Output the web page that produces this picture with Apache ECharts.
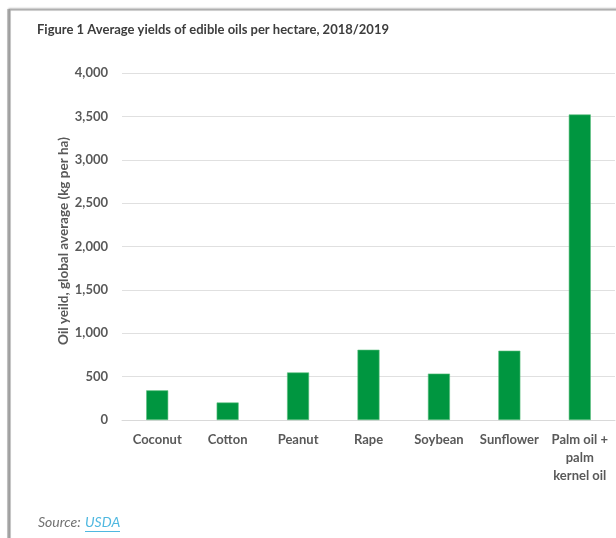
<!DOCTYPE html>
<html><head><meta charset="utf-8">
<script src="https://cdn.jsdelivr.net/npm/echarts@6/dist/echarts.min.js"></script>
<style>html,body{margin:0;padding:0;background:#fff}#c{width:616px;height:538px}</style>
</head><body><div id="c"></div>
<script>
var categories = ['Coconut', 'Cotton', 'Peanut', 'Rape', 'Soybean', 'Sunflower', 'Palm oil +\npalm\nkernel oil'];
var yields = [342, 202, 548, 810, 535, 799, 3522];
var yTicks = [0, 500, 1000, 1500, 2000, 2500, 3000, 3500, 4000];
var yTitle = 'Oil yeild, global average (kg per ha)';

var FONT = 'Lato';
var chart = echarts.init(document.getElementById('c'), null, {renderer: 'canvas'});
chart.setOption({
  animation: false,
  backgroundColor: '#fff',
  graphic: [
    {type: 'rect', shape: {x: 7, y: 9, width: 3, height: 540}, style: {fill: '#d0d0d0'}, z: -9},
    {type: 'rect', shape: {x: 10, y: 10, width: 640, height: 560}, style: {fill: '#fff', stroke: '#a8a8a8', lineWidth: 1.2, shadowBlur: 2, shadowColor: 'rgba(0,0,0,0.3)', shadowOffsetX: -1, shadowOffsetY: -1}, z: -8},
    {type: 'text', left: 37, top: 23, style: {text: 'Figure 1 Average yields of edible oils per hectare, 2018/2019', font: 'bold 13px ' + FONT, fill: '#3d3d3d'}},
    {type: 'text', x: 64, y: 241, rotation: Math.PI / 2, style: {text: yTitle, font: 'bold 13.5px ' + FONT, fill: '#595959', align: 'center', verticalAlign: 'middle'}},
    {type: 'text', left: 38, top: 515, style: {text: 'Source:', font: 'italic 14px ' + FONT, fill: '#707070'}},
    {type: 'text', left: 85, top: 515, style: {text: 'USDA', font: 'italic 14px ' + FONT, fill: '#4fb8e0'}},
    {type: 'rect', shape: {x: 85, y: 531, width: 35, height: 1}, style: {fill: '#4fb8e0'}}
  ],
  grid: {left: 122, right: 1, top: 73, bottom: 118},
  xAxis: {
    type: 'category',
    data: categories,
    axisLine: {lineStyle: {color: '#d9d9d9', width: 1}},
    axisTick: {show: false},
    axisLabel: {color: '#595959', fontFamily: FONT, fontWeight: 'bold', fontSize: 13, lineHeight: 18, margin: 11, interval: 0}
  },
  yAxis: {
    type: 'value',
    min: 0, max: 4000, interval: 500,
    axisLine: {show: false},
    axisTick: {show: false},
    splitLine: {lineStyle: {color: '#e0e0e0', width: 1}},
    axisLabel: {
      color: '#595959', fontFamily: FONT, fontWeight: 'bold', fontSize: 13, margin: 14,
      formatter: function (v) { return v.toLocaleString('en-US'); }
    }
  },
  series: [{
    type: 'bar',
    data: yields,
    barWidth: 22,
    itemStyle: {color: '#009640', borderColor: '#5cc07e', borderWidth: 0.6}
  }]
});
</script></body></html>
